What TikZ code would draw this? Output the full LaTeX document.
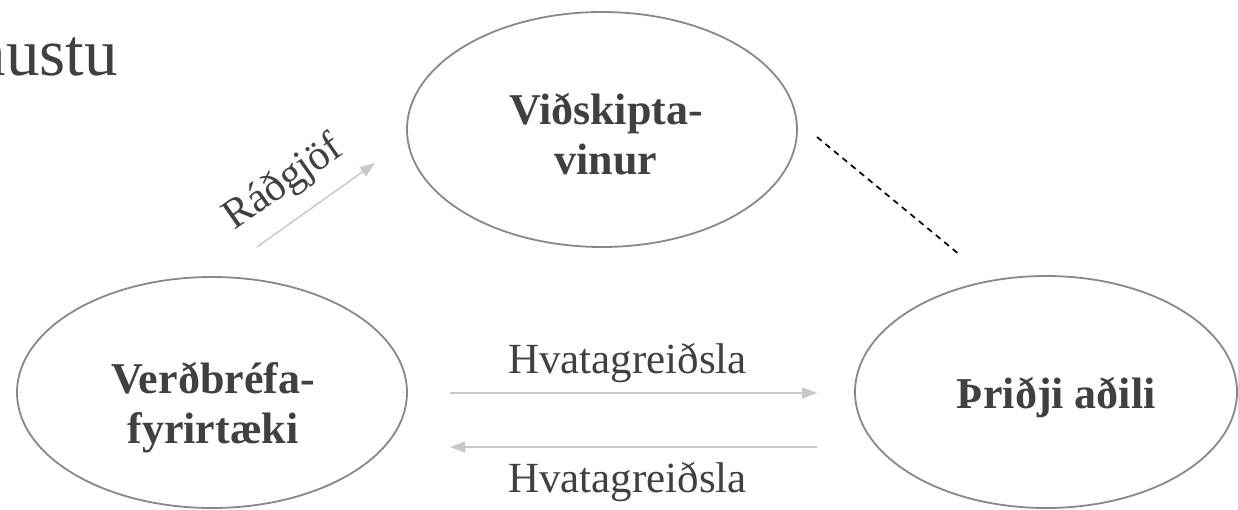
\documentclass[tikz,border=0pt]{standalone}
\usepackage{fontspec}
\setmainfont{Liberation Serif}
\usetikzlibrary{shapes.geometric,arrows.meta}
\definecolor{txt}{HTML}{404040}
\definecolor{ellc}{HTML}{888888}
\definecolor{arrc}{HTML}{C8C8C8}
\tikzset{
  ell/.style={draw=ellc, line width=1.8pt, ellipse, inner sep=0pt},
  boldlbl/.style={text=txt, font=\fontsize{44}{50}\selectfont\bfseries, inner sep=0pt, anchor=base},
  plainlbl/.style={text=txt, font=\fontsize{43}{50}\selectfont, inner sep=0pt, anchor=base},
  flow/.style={draw=arrc, line width=1.5pt, -{Triangle[length=15pt,width=11pt]}},
  dashline/.style={draw=black, line width=1.7pt, dash pattern=on 6pt off 5pt}
}
\begin{document}
\begin{tikzpicture}[x=1pt,y=-1pt]
\useasboundingbox (0,0) rectangle (1238,510);
\clip (0,0) rectangle (1238,510);
% title fragment
\node[text=txt, font=\fontsize{67}{70}\selectfont, inner sep=0pt, anchor=base east] (title) at (118,76) {nustu};
% ellipses
\node[ell, minimum width=390pt, minimum height=235pt] (vin) at (602,129.5) {};
\node[ell, minimum width=390pt, minimum height=231pt] (ver) at (212,392.5) {};
\node[ell, minimum width=382pt, minimum height=232pt] (thr) at (1046,392) {};
% labels in ellipses
\node[boldlbl] (vin1) at (606,125) {Viðskipta-};
\node[boldlbl] (vin2) at (606,175) {vinur};
\node[boldlbl] (ver1) at (213,393) {Verðbréfa-};
\node[boldlbl] (ver2) at (213,443) {fyrirtæki};
\node[boldlbl] (thr1) at (1056,408) {Þriðji aðili};
% connector end points
\coordinate (r1) at (257,247);
\coordinate (r2) at (375,163);
\coordinate (h1a) at (450,393);
\coordinate (h1b) at (817,393);
\coordinate (h2a) at (817,447);
\coordinate (h2b) at (450,447);
\coordinate (d1) at (817,137);
\coordinate (d2) at (960,255);
% connectors
\draw[flow] (r1) -- (r2);
\draw[flow] (h1a) -- (h1b);
\draw[flow] (h2a) -- (h2b);
\draw[dashline] (d1) -- (d2);
% connector labels
\node[plainlbl, font=\fontsize{42}{44}\selectfont, rotate=35] (rad) at (289.5,192) {Ráðgjöf};
\node[plainlbl] (hv1) at (627.5,373) {Hvatagreiðsla};
\node[plainlbl] (hv2) at (627.5,492) {Hvatagreiðsla};
\end{tikzpicture}
\end{document}
